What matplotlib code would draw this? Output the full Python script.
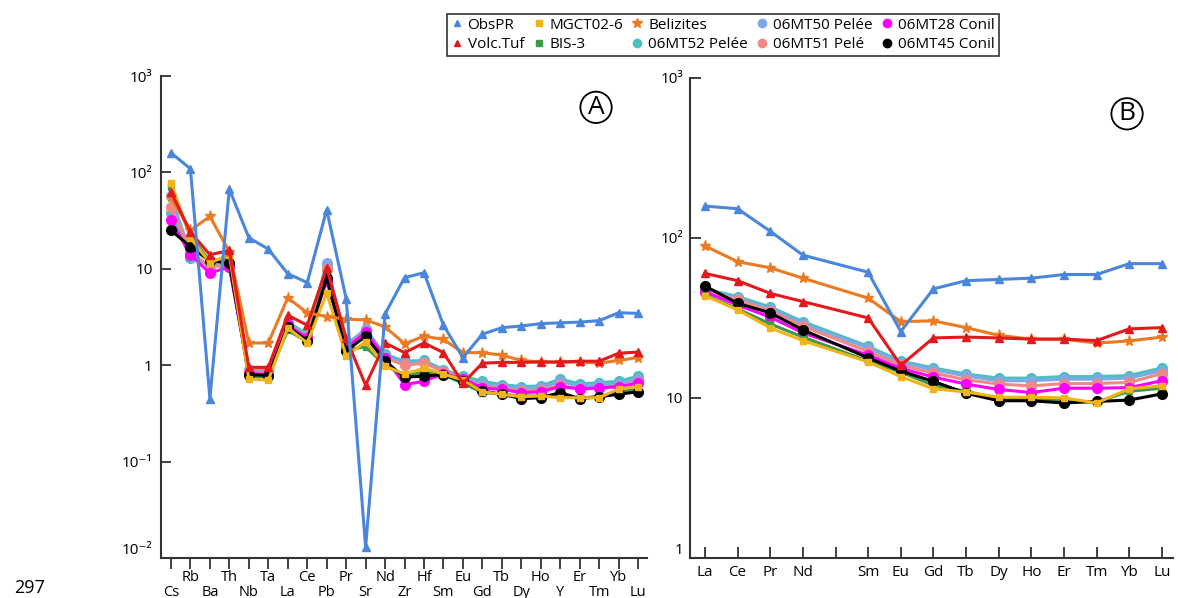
import numpy as np
import matplotlib
matplotlib.use("Agg")
import matplotlib.pyplot as plt
from matplotlib.lines import Line2D

plt.rcParams['font.family'] = ['Open Sans', 'DejaVu Sans']

# panel A: multi-element spider diagram
elems_a = ['Cs', 'Rb', 'Ba', 'Th', 'Nb', 'Ta', 'La', 'Ce', 'Pb', 'Pr', 'Sr', 'Nd', 'Zr',
           'Hf', 'Sm', 'Eu', 'Gd', 'Tb', 'Dy', 'Ho', 'Y', 'Er', 'Tm', 'Yb', 'Lu']
# panel B: REE (Pm left empty)
elems_b = ['La', 'Ce', 'Pr', 'Nd', '', 'Sm', 'Eu', 'Gd', 'Tb', 'Dy', 'Ho', 'Er', 'Tm', 'Yb', 'Lu']

obspr_a = [160, 109, 0.45, 67, 21, 16, 8.9, 7.2, 41, 4.9, 0.013, 3.4, 8.1, 9.1, 2.6, 1.2,
           2.1, 2.45, 2.55, 2.7, 2.75, 2.8, 2.9, 3.5, 3.45]
volc_a = [63, 24, 14, 15.5, 0.95, 0.95, 3.3, 2.6, 10.3, 1.9, 0.62, 1.7, 1.35, 1.7, 1.35, 0.65,
          1.05, 1.07, 1.07, 1.08, 1.08, 1.1, 1.1, 1.33, 1.37]
mgct_a = [78, 21, 11.5, 14, 0.72, 0.70, 2.45, 1.7, 5.6, 1.25, 1.75, 0.98, 0.81, 0.93, 0.81, 0.70,
          0.53, 0.50, 0.47, 0.48, 0.46, 0.46, 0.46, 0.57, 0.60]
bis3_a = [70, 22, 12, 13, 0.76, 0.76, 2.3, 1.75, 9, 1.45, 1.55, 1.0, 0.77, 0.85, 0.79, 0.65,
          0.52, 0.50, 0.48, 0.48, 0.47, 0.46, 0.47, 0.53, 0.56]
beliz_a = [55, 25, 35, 15, 1.7, 1.7, 5.0, 3.5, 3.2, 3.0, 2.95, 2.5, 1.67, 2.0, 1.85, 1.35,
           1.35, 1.27, 1.12, 1.08, 1.07, 1.08, 1.05, 1.12, 1.2]
mt52_a = [38, 13, 11, 10.5, 0.88, 0.88, 2.8, 2.1, 11, 1.65, 2.3, 1.3, 1.1, 1.12, 0.9, 0.77,
          0.68, 0.63, 0.60, 0.61, 0.72, 0.64, 0.66, 0.68, 0.77]
mt50_a = [57, 14.5, 10.5, 11, 0.9, 0.9, 2.7, 2.0, 11.5, 1.6, 2.4, 1.25, 1.05, 1.08, 0.88, 0.74,
          0.64, 0.60, 0.57, 0.58, 0.68, 0.60, 0.62, 0.64, 0.72]
mt51_a = [44, 15, 10.5, 11, 0.85, 0.85, 2.6, 1.95, 10, 1.55, 2.2, 1.2, 1.0, 1.05, 0.86, 0.72,
          0.60, 0.57, 0.54, 0.55, 0.62, 0.56, 0.58, 0.60, 0.67]
mt28_a = [32, 14, 9, 10.5, 0.82, 0.80, 2.6, 1.9, 7.5, 1.5, 2.2, 1.2, 0.63, 0.68, 0.82, 0.72,
          0.58, 0.56, 0.52, 0.53, 0.60, 0.57, 0.58, 0.60, 0.65]
mt45_a = [25, 17, 12, 11.5, 0.80, 0.78, 2.5, 1.8, 8, 1.4, 2.0, 1.1, 0.75, 0.77, 0.80, 0.68,
          0.54, 0.50, 0.45, 0.46, 0.52, 0.45, 0.47, 0.50, 0.53]

nan = np.nan
obspr_b = [158, 152, 110, 78, nan, 61, 26, 48, 54, 55, 56, 59, 59, 69, 69]
volc_b = [60, 54, 45, 40, nan, 31.6, 16, 23.7, 24, 23.7, 23.3, 23.3, 22.8, 27, 27.5]
mgct_b = [43.5, 35.5, 27.4, 22.8, nan, 16.8, 13.6, 11.4, 10.9, 10.1, 10.1, 10.0, 9.3, 11.4, 11.9]
bis3_b = [44, 36, 29, 24, nan, 17, 14.5, 12, 11, 9.9, 9.9, 9.7, 9.4, 11, 11.5]
beliz_b = [89, 71, 65, 56, nan, 42, 30, 30.3, 27.5, 24.6, 23.3, 23.3, 22, 22.7, 24]
mt52_b = [48, 43, 37, 30, nan, 21, 17, 15.4, 14.1, 13.3, 13.3, 13.6, 13.6, 13.8, 15.4]
mt50_b = [47, 42, 36, 29, nan, 20.5, 16.6, 15, 13.7, 12.8, 12.8, 13.1, 13.1, 13.3, 14.8]
mt51_b = [46, 41, 35, 28, nan, 19.5, 16, 14.3, 13.0, 12.2, 11.9, 12.3, 12.3, 12.5, 14.2]
mt28_b = [46, 38, 32, 25.5, nan, 18.5, 15.3, 13.5, 12.2, 11.3, 10.8, 11.5, 11.5, 11.6, 12.8]
mt45_b = [50, 39, 34, 26.6, nan, 17.8, 14.7, 12.7, 10.7, 9.6, 9.6, 9.3, 9.5, 9.7, 10.6]

# name, color, marker, size, data A, data B  (drawing order bottom -> top)
series = [
    ('06MT52 Pelée', '#4dbfbf', 'o', 7, mt52_a, mt52_b),
    ('06MT50 Pelée', '#80a8e6', 'o', 7, mt50_a, mt50_b),
    ('06MT51 Pelé', '#f08884', 'o', 7, mt51_a, mt51_b),
    ('06MT28 Conil', '#ff00ff', 'o', 7, mt28_a, mt28_b),
    ('BIS-3', '#3b9a4c', 's', 5, bis3_a, bis3_b),
    ('06MT45 Conil', '#000000', 'o', 7, mt45_a, mt45_b),
    ('MGCT02-6', '#f0b419', 's', 5, mgct_a, mgct_b),
    ('Belizites', '#ec7a22', '*', 8, beliz_a, beliz_b),
    ('Volc.Tuf', '#e4191c', '^', 6, volc_a, volc_b),
    ('ObsPR', '#4a86dc', '^', 6, obspr_a, obspr_b),
]

fig = plt.figure(figsize=(11.78, 5.98), dpi=100)
ax_a = fig.add_axes([0.1367, 0.0669, 0.4126, 0.806])
ax_b = fig.add_axes([0.5857, 0.0669, 0.4100, 0.803])

xa = np.arange(len(elems_a))
xb = np.arange(len(elems_b))
for name, col, mk, ms, da, db in series:
    ax_a.plot(xa, da, color=col, marker=mk, ms=ms, lw=2.2, mec=col)
    db = np.array(db, dtype=float)
    ok = ~np.isnan(db)
    ax_b.plot(xb[ok], db[ok], color=col, marker=mk, ms=ms, lw=2.2, mec=col)

for ax in (ax_a, ax_b):
    ax.set_yscale('log')
    ax.spines['top'].set_visible(False)
    ax.spines['right'].set_visible(False)
    ax.spines['left'].set_color('#333333')
    ax.spines['bottom'].set_color('#333333')
    ax.spines['left'].set_linewidth(1.5)
    ax.spines['bottom'].set_linewidth(1.5)
    ax.minorticks_off()

# panel A axes
ax_a.set_xlim(-0.51, 24.46)
ax_a.set_ylim(1e-2, 1e3)
ax_a.set_yticks([1e3, 1e2, 10, 1, 0.1, 0.01])
ax_a.set_yticklabels(['10³', '10²', '10', '1', '10⁻¹', '10⁻²'])
ax_a.yaxis.get_ticklabels()[-1].set_va('bottom')
ax_a.set_xticks(xa)
ax_a.set_xticklabels([e if i % 2 else '\n' + e for i, e in enumerate(elems_a)])
ax_a.tick_params(axis='x', direction='out', length=8, width=1.3, colors='#333333',
                 labelsize=10.5, labelcolor='black', pad=1)
ax_a.tick_params(axis='y', direction='in', length=7, width=1.3, colors='#333333',
                 labelsize=11, labelcolor='black', pad=6)
for lab in ax_a.get_xticklabels():
    lab.set_linespacing(0.95)
ax_a.text(0.895, 0.935, 'A', transform=ax_a.transAxes, fontsize=19, ha='center', va='center',
          bbox=dict(boxstyle='circle,pad=0.12', fc='white', ec='black', lw=1.3))

# panel B axes
ax_b.set_xlim(-0.46, 14.34)
ax_b.set_ylim(1, 1e3)
ax_b.set_yticks([1e3, 1e2, 10, 1])
ax_b.set_yticklabels(['10³', '10²', '10', '1'])
ax_b.yaxis.get_ticklabels()[-1].set_va('bottom')
ax_b.set_xticks(xb)
ax_b.set_xticklabels(elems_b)
ax_b.tick_params(axis='both', direction='in', length=8, width=1.3, colors='#333333',
                 labelsize=11, labelcolor='black', pad=5)
ax_b.text(0.905, 0.925, 'B', transform=ax_b.transAxes, fontsize=19, ha='center', va='center',
          bbox=dict(boxstyle='circle,pad=0.12', fc='white', ec='black', lw=1.3))

# legend, markers only
order = ['ObsPR', 'Volc.Tuf', 'MGCT02-6', 'BIS-3', 'Belizites', '06MT52 Pelée',
         '06MT50 Pelée', '06MT51 Pelé', '06MT28 Conil', '06MT45 Conil']
lookup = {s[0]: s for s in series}
handles = []
for nm in order:
    _, col, mk, ms, _, _ = lookup[nm]
    handles.append(Line2D([], [], ls='none', marker=mk, color=col, ms=ms - 1, mec=col))
leg = fig.legend(handles, order, ncol=5, loc='upper center', bbox_to_anchor=(0.6135, 0.977),
                 fontsize=11, frameon=True, fancybox=False, edgecolor='black',
                 handlelength=0.8, handletextpad=0.3, columnspacing=0.55, labelspacing=0.3,
                 borderpad=0.25, borderaxespad=0)
leg.get_frame().set_linewidth(1.2)

fig.text(0.012, 0.001, '297', fontsize=13, ha='left', va='bottom')

fig.savefig('out.png', dpi=100)
